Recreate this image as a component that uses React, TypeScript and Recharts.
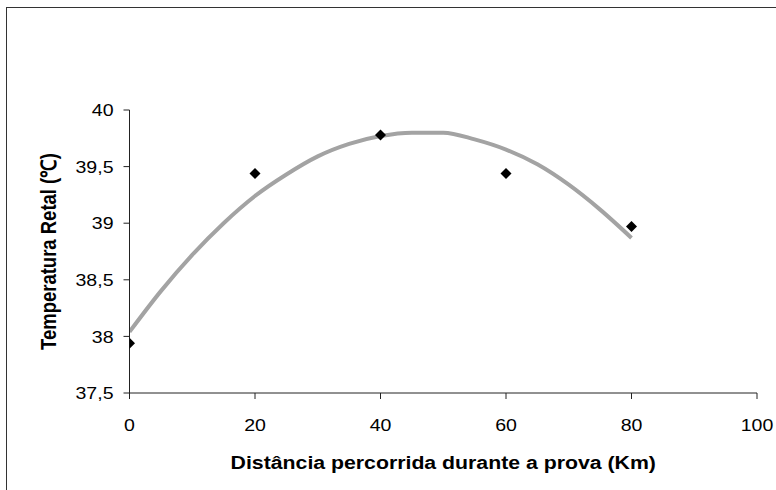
import React from 'react';
import { ComposedChart, Scatter, Line, XAxis, YAxis, Label } from 'recharts';

// Measured rectal temperature along the race distance
const distanceKm = [0, 20, 40, 60, 80];
const temperature = [37.94, 39.44, 39.78, 39.44, 38.97];

// Polynomial trend curve, sampled every 5 km
const trendKm = [0, 5, 10, 15, 20, 25, 30, 35, 40, 45, 50, 55, 60, 65, 70, 75, 80];
const trendTemp = [
    38.04, 38.4, 38.72, 39.0, 39.24, 39.43, 39.59, 39.7, 39.77,
    39.8, 39.8, 39.74, 39.65, 39.52, 39.34, 39.12, 38.87,
];

const xTicks = [0, 20, 40, 60, 80, 100];
const yTicks = [37.5, 38, 38.5, 39, 39.5, 40];

const points = distanceKm.map((x, i) => ({ x, y: temperature[i] }));
const trend = trendKm.map((x, i) => ({ x, y: trendTemp[i] }));

const FONT = '"Liberation Sans", Arial, sans-serif';
const STRETCH = 1.15;

const fmt = (v: number) => String(v).replace('.', ',');

const YTick = (props: any) => {
    const { x, y, payload } = props;
    return (
        <g transform={`translate(${x - 8},${y}) scale(${STRETCH},1)`}>
            <text x={0} y={0} dy="0.36em" textAnchor="end" fontSize={17} fontFamily={FONT} fill="#000">
                {fmt(payload.value)}
            </text>
        </g>
    );
};

const XTick = (props: any) => {
    const { x, y, payload } = props;
    return (
        <g transform={`translate(${x},${y + 24}) scale(${STRETCH},1)`}>
            <text x={0} y={0} dy="0.36em" textAnchor="middle" fontSize={17} fontFamily={FONT} fill="#000">
                {payload.value}
            </text>
        </g>
    );
};

const Diamond = (props: any) => {
    const { cx, cy } = props;
    const r = 5.5;
    return (
        <polygon
            points={`${cx},${cy - r} ${cx + r},${cy} ${cx},${cy + r} ${cx - r},${cy}`}
            fill="#000"
        />
    );
};

const XTitle = (props: any) => {
    const { viewBox } = props;
    const cx = viewBox.x + viewBox.width / 2;
    return (
        <g transform={`translate(${cx},462) scale(${STRETCH},1)`}>
            <text x={0} y={0} dy="0.36em" textAnchor="middle" fontSize={18.5} fontWeight="bold" fontFamily={FONT} fill="#000">
                Distância percorrida durante a prova (Km)
            </text>
        </g>
    );
};

const YTitle = (props: any) => {
    const { viewBox } = props;
    const cy = viewBox.y + viewBox.height / 2;
    return (
        <g transform={`translate(48,${cy}) scale(${STRETCH},1) rotate(-90)`}>
            <text x={0} y={0} dy="0.36em" textAnchor="middle" fontSize={18.5} fontWeight="bold" fontFamily={FONT} fill="#000">
                Temperatura Retal (℃)
            </text>
        </g>
    );
};

export default function App() {
    return (
        <div style={{ position: 'absolute', left: 0, top: 0, width: 776, height: 490, overflow: 'hidden', background: '#fff' }}>
            <div
                style={{
                    position: 'absolute',
                    left: 6,
                    top: 7,
                    width: 900,
                    height: 600,
                    borderTop: '1px solid #333',
                    borderLeft: '1px solid #333',
                }}
            />
            <ComposedChart
                width={776}
                height={490}
                margin={{ top: 110, right: 19, bottom: 37, left: 49.5 }}
                style={{ position: 'absolute', left: 0, top: 0 }}
            >
                <XAxis
                    type="number"
                    dataKey="x"
                    domain={[0, 100]}
                    ticks={xTicks}
                    height={60}
                    stroke="#222"
                    tickSize={6}
                    tick={<XTick />}
                    allowDataOverflow
                >
                    <Label content={<XTitle />} />
                </XAxis>
                <YAxis
                    type="number"
                    dataKey="y"
                    domain={[37.5, 40]}
                    ticks={yTicks}
                    width={80}
                    stroke="#222"
                    tickSize={6}
                    tick={<YTick />}
                    allowDataOverflow
                >
                    <Label content={<YTitle />} />
                </YAxis>
                <Line
                    data={trend}
                    dataKey="y"
                    type="monotone"
                    stroke="#a3a3a3"
                    strokeWidth={4}
                    dot={false}
                    activeDot={false}
                    isAnimationActive={false}
                />
                <Scatter data={points} dataKey="y" shape={<Diamond />} isAnimationActive={false} />
            </ComposedChart>
        </div>
    );
}
